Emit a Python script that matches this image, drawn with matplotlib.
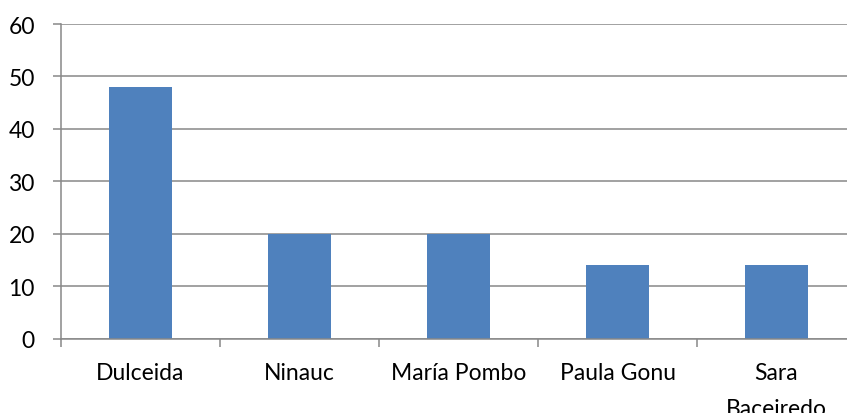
import numpy as np
import matplotlib.pyplot as plt

names = ["Dulceida", "Ninauc", "María Pombo", "Paula Gonu", "Sara\nBaceiredo"]
values = [48, 20, 20, 14, 14]
y_ticks = [0, 10, 20, 30, 40, 50, 60]

plt.rcParams["font.family"] = ["Lato", "DejaVu Sans"]

fig = plt.figure(figsize=(8.47, 4.14), dpi=100)
# plot area runs a little past the right edge of the figure
ax = fig.add_axes([61 / 847, 1 - 339.7 / 414, 795 / 847, (339.7 - 25) / 414])

grey = "#888888"
x = np.arange(len(names))
ax.bar(x, values, width=0.4, color="#4F81BD", zorder=3)

ax.set_xlim(-0.5, len(names) - 0.5)
ax.set_ylim(0, 60)
ax.set_yticks(y_ticks)
ax.yaxis.grid(True, color=grey, linewidth=1.1, zorder=0)

# category labels centred, tick marks between categories
ax.set_xticks(x)
ax.set_xticklabels(names, fontsize=16.5, linespacing=1.85)
ax.set_xticks(np.arange(-0.5, len(names), 1), minor=True)
ax.tick_params(axis="x", which="major", length=0, pad=17)
ax.tick_params(axis="x", which="minor", length=5.8, width=1.1, color=grey)
ax.tick_params(axis="y", length=5.8, width=1.1, color=grey, pad=13, labelsize=16.5)

for side in ["top", "right"]:
    ax.spines[side].set_visible(False)
for side in ["left", "bottom"]:
    ax.spines[side].set_color(grey)
    ax.spines[side].set_linewidth(1.1)
    ax.spines[side].set_zorder(4)

fig.savefig("out.png", dpi=100)
